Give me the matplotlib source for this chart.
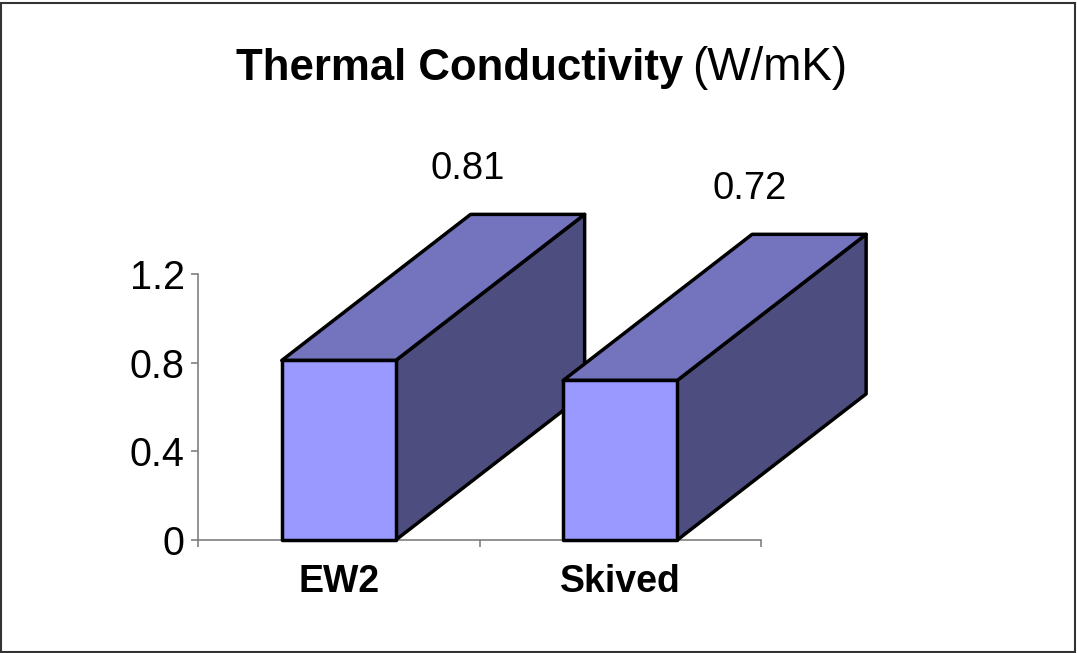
import matplotlib
matplotlib.use("Agg")
from matplotlib import pyplot as plt, rcParams
from matplotlib.patches import Polygon, Rectangle

rcParams.update({
    'font.family': ['Liberation Sans', 'DejaVu Sans'],
    'font.size': 27,
})

categories = ['EW2', 'Skived']
values = [0.81, 0.72]
yticks = [0, 0.4, 0.8, 1.2]
ytick_labels = ['0', '0.4', '0.8', '1.2']

front_col = '#9999FF'
top_col = '#7373BE'
side_col = '#4D4D80'
half_w = 0.2025
depth_x, depth_y = 0.671, 0.659

fig = plt.figure(figsize=(10.77, 6.53), dpi=100)
ax = fig.add_axes([198 / 1077, 113 / 653, 563 / 1077, 266 / 653])
ax.set_xlim(0, 2)
ax.set_ylim(0, 1.2)
ax.patch.set_visible(False)
for s in ['top', 'right']:
    ax.spines[s].set_visible(False)
for s in ['left', 'bottom']:
    ax.spines[s].set_color('#808080')
    ax.spines[s].set_linewidth(1.2)

ax.set_yticks(yticks, ytick_labels)
ax.tick_params(axis='y', length=5, width=1.2, color='#808080', pad=4.5, labelsize=28.5)
ax.set_xticks([0, 1, 2], ['', '', ''])
ax.tick_params(axis='x', which='major', length=5, width=1.2, color='#808080')
ax.set_xticks([i + 0.5 for i in range(len(categories))], categories, minor=True)
ax.tick_params(axis='x', which='minor', length=0, pad=17.5, labelsize=27)
for t in ax.get_xticklabels(minor=True):
    t.set_fontweight('bold')

for i, v in enumerate(values):
    c = i + 0.5
    l, r = c - half_w, c + half_w
    front = [(l, 0), (r, 0), (r, v), (l, v)]
    top = [(l, v), (r, v), (r + depth_x, v + depth_y), (l + depth_x, v + depth_y)]
    side = [(r, 0), (r + depth_x, depth_y), (r + depth_x, v + depth_y), (r, v)]
    for pts, col in [(side, side_col), (top, top_col), (front, front_col)]:
        ax.add_patch(Polygon(pts, closed=True, facecolor=col, edgecolor='black',
                             lw=2.5, joinstyle='round', clip_on=False, zorder=3))
    ax.annotate(f'{v:.2f}', xy=(c, v), xytext=(93, 138), textcoords='offset points',
                ha='center', va='center', fontsize=27.5)

fig.text(683 / 1077, 1 - 80 / 653, 'Thermal Conductivity', ha='right', va='baseline',
         fontsize=31.5, fontweight='bold')
fig.text(692 / 1077, 1 - 80 / 653, '(W/mK)', ha='left', va='baseline', fontsize=33)

fig.patches.append(Rectangle((1 / 1077, 1.5 / 653), 1074 / 1077, 649 / 653,
                             transform=fig.transFigure, fill=False,
                             edgecolor='#333333', lw=1.5))

fig.savefig('out.png', dpi=100)
